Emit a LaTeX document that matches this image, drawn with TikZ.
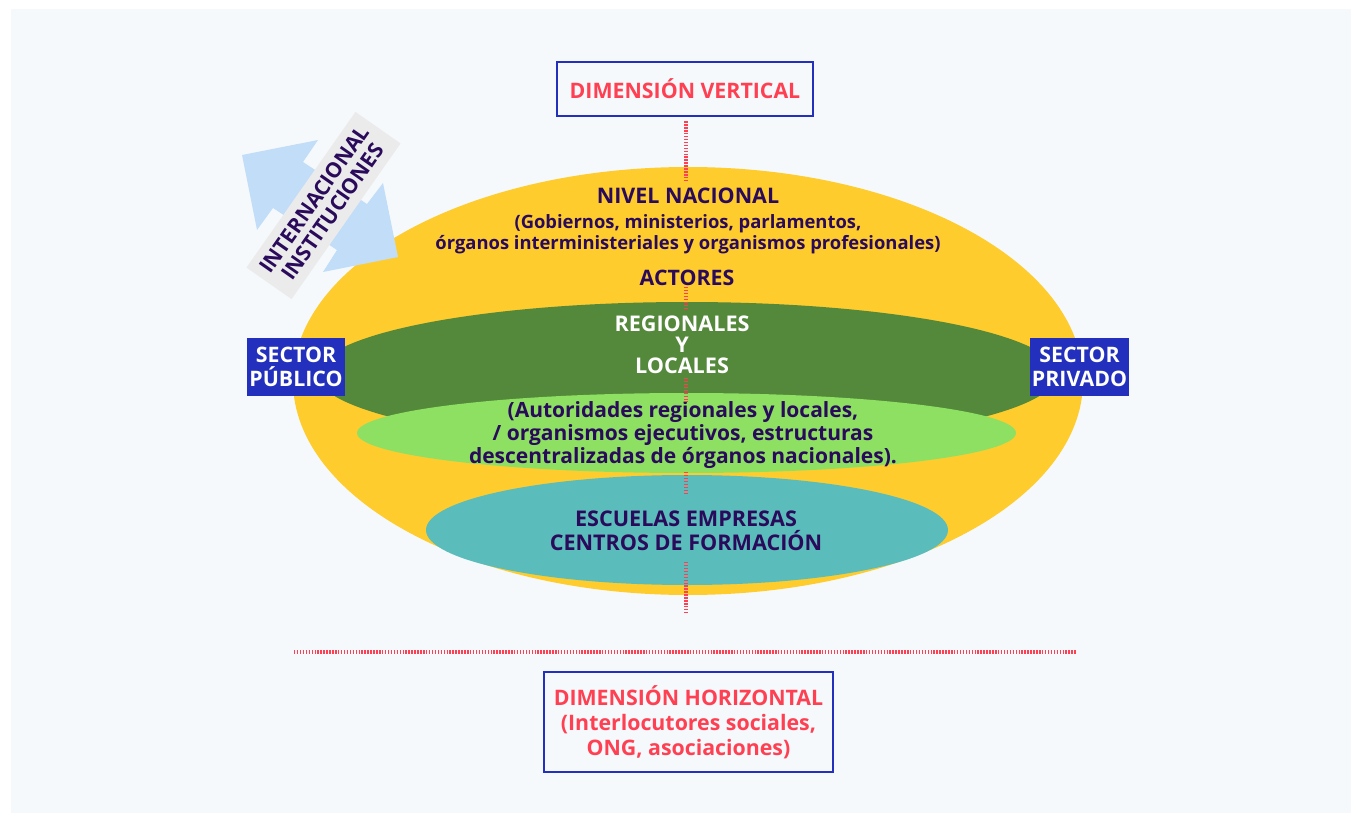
\documentclass[tikz,border=0pt]{standalone}
\usepackage{fontspec}
\IfFontExistsTF{Noto Sans Bold}{\setmainfont{Noto Sans}[BoldFont={Noto Sans Bold}]}{%
  \IfFontExistsTF{Open Sans Bold}{\setmainfont{Open Sans}[BoldFont={Open Sans Bold}]}{%
    \setmainfont{Noto Sans}[AutoFakeBold=2.5]}}
\newcommand\myfs[2]{\fontsize{#1}{#2}\selectfont}
\definecolor{panel}{HTML}{F5F9FC}
\definecolor{yell}{HTML}{FFCC2E}
\definecolor{dgreen}{HTML}{54883B}
\definecolor{lgreen}{HTML}{8EE063}
\definecolor{teal2}{HTML}{5BBCBC}
\definecolor{bluebox}{HTML}{2230BD}
\definecolor{redtxt}{HTML}{FF4052}
\definecolor{darktxt}{HTML}{2A0A5A}
\definecolor{graybox}{HTML}{EBEBEB}
\definecolor{arrowblue}{HTML}{C2DDF8}
\begin{document}
\begin{tikzpicture}[x=0.75pt,y=-0.75pt,
  txt/.style={font=\bfseries, text=darktxt, align=center, inner sep=0pt},
  dimbox/.style={draw=bluebox, line width=1.9pt, fill=panel, text=redtxt, align=center, font=\bfseries\myfs{16}{18.75}, inner sep=0pt},
  sectorbox/.style={fill=bluebox, text=white, align=center, font=\bfseries\myfs{16}{18}, inner sep=0pt, minimum width=74pt, minimum height=43.5pt},
  dotline/.style={draw=redtxt, line width=3.6pt, dash pattern=on 1.1pt off 1.1pt}
]
\useasboundingbox (0,0) rectangle (1362,823);
\fill[panel] (11,9) rectangle (1351,813);

% ellipses
\fill[yell] (688,381) ellipse [x radius=395, y radius=214];
\fill[dgreen] (687,374) ellipse [x radius=370, y radius=72];
\fill[lgreen] (686.5,433) ellipse [x radius=329.5, y radius=40];
\fill[teal2] (687,530) ellipse [x radius=261, y radius=55];

% double arrow
\fill[arrowblue] (242,155) -- (318,140) -- (303,162) -- (367,204) -- (383,183)
  -- (398,257) -- (323,272) -- (337,250) -- (273,208) -- (257,230) -- cycle;
\node[fill=graybox, rotate=55, minimum width=142.5pt, minimum height=41.25pt, inner sep=0pt,
      txt, font=\bfseries\myfs{15.8}{16.5}] (inst) at (323.5,205.5) {INTERNACIONAL\\INSTITUCIONES};

% boxes
\node[dimbox, minimum width=192pt, minimum height=40.5pt] (vtop) at (685,89) {DIMENSIÓN VERTICAL};
\node[dimbox, minimum width=216.75pt, minimum height=75pt] (hbot) at (688.5,722)
  {DIMENSIÓN HORIZONTAL\\(Interlocutores sociales,\\ONG, asociaciones)};

% texts
\node[txt, font=\bfseries\myfs{16.1}{18}] (nivel) at (688,196) {NIVEL NACIONAL};
\node[txt, font=\bfseries\myfs{13.8}{15.75}] (gob) at (688,234)
  {(Gobiernos, ministerios, parlamentos,\\órganos interministeriales y organismos profesionales)};
\node[txt, font=\bfseries\myfs{16}{16}] (act) at (687,278) {ACTORES};
\node[txt, text=white, font=\bfseries\myfs{16.2}{15.75}] (reg) at (682,345) {REGIONALES\\Y\\LOCALES};
\node[txt, font=\bfseries\myfs{15.75}{17.5}] (auto) at (683,435)
  {(Autoridades regionales y locales,\\/ organismos ejecutivos, estructuras\\descentralizadas de órganos nacionales).};
\node[txt, font=\bfseries\myfs{16.2}{18}] (esc) at (686,531) {ESCUELAS EMPRESAS\\CENTROS DE FORMACIÓN};

\node[sectorbox] (pub) at (296,367) {SECTOR\\PÚBLICO};
\node[sectorbox] (priv) at (1079.5,367) {SECTOR\\PRIVADO};

% vertical dotted line, in segments
\coordinate (vend) at (686,612);
\coordinate (v1) at (686,180);
\coordinate (v2) at (686,287);
\coordinate (v3) at (686,310);
\coordinate (v4) at (686,378);
\coordinate (v5) at (686,402);
\coordinate (v6) at (686,472);
\coordinate (v7) at (686,495);
\coordinate (v8) at (686,562);
\draw[dotline] (vtop.south -| v1) ++(0,4) -- (v1);
\draw[dotline] (v2) -- (v3);
\draw[dotline] (v4) -- (v5);
\draw[dotline] (v6) -- (v7);
\draw[dotline] (v8) -- (vend);

% horizontal dotted line
\coordinate (hl) at (294,652);
\coordinate (hr) at (1076,652);
\draw[dotline] (hl) -- (hr);
\end{tikzpicture}
\end{document}
